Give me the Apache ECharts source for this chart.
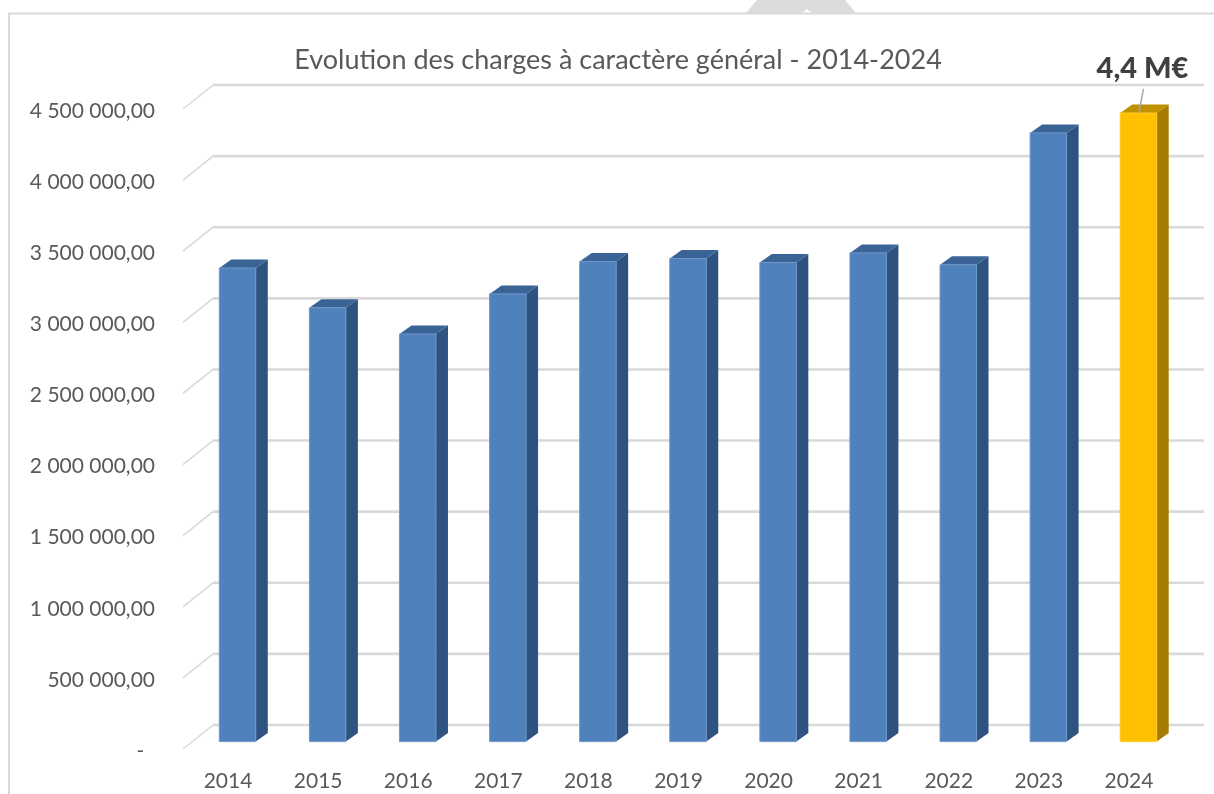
<!DOCTYPE html>
<html>
<head>
<meta charset="utf-8">
<title>Evolution des charges</title>
<script src="https://cdn.jsdelivr.net/npm/echarts@6/dist/echarts.min.js"></script>
<style>
  html, body { margin: 0; padding: 0; background: #fff; }
  #main { width: 1214px; height: 794px; }
</style>
</head>
<body>
<div id="main"></div>
<script>
var categories = ['2014', '2015', '2016', '2017', '2018', '2019', '2020', '2021', '2022', '2023', '2024'];
var charges = [3330000, 3050000, 2866000, 3148000, 3376000, 3397000, 3369000, 3436000, 3352000, 4280000, 4420000];
var yTicks = [0, 500000, 1000000, 1500000, 2000000, 2500000, 3000000, 3500000, 4000000, 4500000];
var yTickLabels = ['-  ', '500 000,00', '1 000 000,00', '1 500 000,00', '2 000 000,00', '2 500 000,00', '3 000 000,00', '3 500 000,00', '4 000 000,00', '4 500 000,00'];
var highlightYear = '2024';
var highlightLabel = '4,4 M€';

var fontName = 'Lato, "Open Sans", sans-serif';
// fausse 3D : décalage du plan du fond et des barres par rapport au plan avant
var backDx = 30, backDy = -24;
var barDx = 9.5, barDy = -7.4;
var depthX = 12, depthY = -8.5;
var blue = { front: '#4f81bd', side: '#2f5380', top: '#3b6496', edge: '#6f97cb' };
var gold = { front: '#ffc000', side: '#a67c00', top: '#bf9000', edge: '#ffc926' };

var myChart = echarts.init(document.getElementById('main'));

function renderGridLine(params, api) {
    var grid = params.coordSys;
    var y = api.coord([0, api.value(0)])[1];
    return {
        type: 'group',
        silent: true,
        children: [
            {
                type: 'line',
                shape: { x1: grid.x, y1: y, x2: grid.x + backDx, y2: y + backDy },
                style: { stroke: '#d9d9d9', lineWidth: 1.6 }
            },
            {
                type: 'line',
                shape: { x1: grid.x + backDx, y1: y + backDy, x2: grid.x + grid.width + backDx, y2: y + backDy },
                style: { stroke: '#d9d9d9', lineWidth: 2.6 }
            }
        ]
    };
}

function renderBar(params, api) {
    var idx = api.value(0);
    var topPt = api.coord([idx, api.value(1)]);
    var basePt = api.coord([idx, 0]);
    var w = api.size([1, 0])[0] * 0.405;
    var x0 = topPt[0] + barDx - w / 2;
    var x1 = x0 + w;
    var yt = topPt[1] + barDy;
    var yb = basePt[1] + barDy;
    var c = categories[idx] === highlightYear ? gold : blue;
    return {
        type: 'group',
        children: [
            {
                type: 'polygon',
                shape: { points: [[x1, yt], [x1 + depthX, yt + depthY], [x1 + depthX, yb + depthY], [x1, yb]] },
                style: { fill: c.side }
            },
            {
                type: 'polygon',
                shape: { points: [[x0, yt], [x0 + depthX, yt + depthY], [x1 + depthX, yt + depthY], [x1, yt]] },
                style: { fill: c.top }
            },
            {
                type: 'rect',
                shape: { x: x0, y: yt, width: w, height: yb - yt },
                style: { fill: c.front, stroke: c.edge, lineWidth: 1 }
            }
        ]
    };
}

function renderCallout(params, api) {
    var p = api.coord([api.value(0), api.value(1)]);
    var x = p[0] + barDx, y = p[1] + barDy;
    return {
        type: 'group',
        children: [
            {
                type: 'line',
                shape: { x1: x + 0.5, y1: y, x2: x + 5, y2: y - 24 },
                style: { stroke: '#a6a6a6', lineWidth: 1.5 }
            },
            {
                type: 'text',
                style: {
                    x: x + 4, y: y - 44, text: api.value(2),
                    fill: '#404040', font: '900 29px ' + fontName,
                    align: 'center', verticalAlign: 'middle'
                }
            }
        ]
    };
}

var option = {
    animation: false,
    backgroundColor: '#fff',
    title: {
        text: 'Evolution des charges à caractère général - 2014-2024',
        left: 613,
        top: 42,
        textAlign: 'center',
        textStyle: { color: '#595959', fontSize: 27, fontWeight: 'normal', fontFamily: fontName }
    },
    grid: { left: 183, top: 109, width: 991, height: 640 },
    xAxis: {
        type: 'category',
        data: categories,
        axisLine: { show: false },
        axisTick: { show: false },
        axisLabel: { color: '#595959', fontSize: 21, fontFamily: fontName, margin: 22 }
    },
    yAxis: {
        type: 'value',
        min: 0,
        max: 4500000,
        interval: 500000,
        axisLine: { show: false },
        axisTick: { show: false },
        splitLine: { show: false },
        axisLabel: {
            color: '#595959',
            fontSize: 21,
            fontFamily: fontName,
            margin: 28,
            verticalAlign: 'top',
            lineHeight: 4,
            formatter: function (v) { return yTickLabels[yTicks.indexOf(v)]; }
        }
    },
    // cadre et forme grise coupée en haut de la capture
    graphic: [
        {
            type: 'polyline',
            shape: { points: [[9, 800], [9, 13.5], [1220, 13.5]] },
            style: { fill: 'none', stroke: '#d9d9d9', lineWidth: 2 },
            silent: true
        },
        {
            type: 'polygon',
            shape: { points: [[746, 13], [757, 0], [845, 0], [856, 13], [812, 13], [807, 9], [802, 13]] },
            style: { fill: '#dcdcdc' },
            silent: true
        }
    ],
    series: [
        {
            name: 'Quadrillage',
            type: 'custom',
            renderItem: renderGridLine,
            clip: false,
            silent: true,
            z: 1,
            data: yTicks.map(function (v) { return [v]; }),
            encode: { y: 0 }
        },
        {
            name: 'Charges à caractère général',
            type: 'custom',
            renderItem: renderBar,
            clip: false,
            z: 2,
            data: categories.map(function (c, i) { return [i, charges[i]]; }),
            encode: { x: 0, y: 1 }
        },
        {
            name: 'Etiquette',
            type: 'custom',
            renderItem: renderCallout,
            clip: false,
            silent: true,
            z: 3,
            data: [[categories.indexOf(highlightYear), charges[categories.indexOf(highlightYear)], highlightLabel]],
            encode: { x: 0, y: 1 }
        }
    ]
};
myChart.setOption(option);
</script>
</body>
</html>
